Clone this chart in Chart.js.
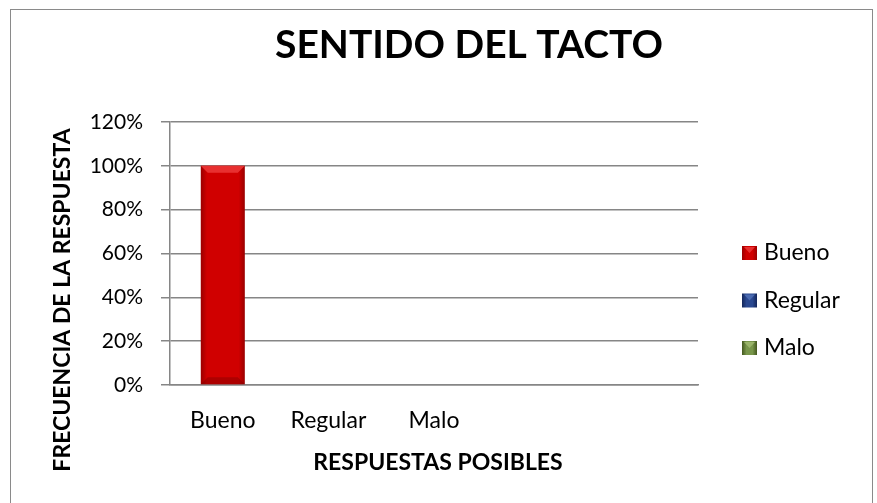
<!DOCTYPE html>
<html><head><meta charset="utf-8">
<script src="https://cdn.jsdelivr.net/npm/chart.js@4/dist/chart.umd.min.js"></script>
<style>
html,body{margin:0;padding:0;background:#fff;overflow:hidden;width:877px;height:503px;}
#frame{position:absolute;left:10px;top:9px;width:863px;height:700px;border:1px solid #8a8a8a;box-sizing:border-box;}
#c{position:absolute;left:0;top:0;}
</style></head><body>
<div id="frame"></div>
<canvas id="c" width="877" height="600"></canvas>
<script>
const chartTitle = 'SENTIDO DEL TACTO';
const xAxisTitle = 'RESPUESTAS POSIBLES';
const yAxisTitle = 'FRECUENCIA DE LA RESPUESTA';
const categories = ['Bueno', 'Regular', 'Malo', '', ''];
const seriesNames = ['Bueno', 'Regular', 'Malo'];
const buenoValues = [100, null, null, null, null];
const regularValues = [null, 0, null, null, null];
const maloValues = [null, null, 0, null, null];
const yTickLabels = ['0%', '20%', '40%', '60%', '80%', '100%', '120%'];

const BAR_PCT = 0.417;
const palette = [
  {dark: '#9a0000', mid: '#d00000', light: '#e83030'},
  {dark: '#13265a', mid: '#2a4890', light: '#4a6ab0'},
  {dark: '#44581f', mid: '#78964a', light: '#9ab46a'}
];

function barFill(base) {
  return (ctx) => {
    const chart = ctx.chart;
    const xs = chart.scales && chart.scales.x;
    if (!xs || ctx.dataIndex === undefined || !chart.chartArea) return base.mid;
    const cx = xs.getPixelForValue(ctx.dataIndex);
    const w = (xs.width / categories.length) * BAR_PCT;
    const g = chart.ctx.createLinearGradient(cx - w / 2, 0, cx + w / 2, 0);
    g.addColorStop(0, base.dark);
    g.addColorStop(0.14, base.mid);
    g.addColorStop(0.86, base.mid);
    g.addColorStop(1, base.dark);
    return g;
  };
}

// bevel highlight on top of each bar, using the library's bar element geometry
const bevel = {
  id: 'bevel',
  afterDatasetsDraw(chart) {
    const c = chart.ctx;
    chart.data.datasets.forEach((ds, di) => {
      const meta = chart.getDatasetMeta(di);
      meta.data.forEach((el, i) => {
        if (ds.data[i] === null || ds.data[i] === 0) return;
        const {x, y, base, width} = el.getProps(['x', 'y', 'base', 'width'], true);
        const l = x - width / 2, r = x + width / 2, b = 7;
        c.save();
        c.fillStyle = palette[di].light;
        c.beginPath(); c.moveTo(l, y); c.lineTo(r, y); c.lineTo(r - b, y + b); c.lineTo(l + b, y + b); c.closePath(); c.fill();
        c.fillStyle = 'rgba(110,0,0,0.35)';
        c.beginPath(); c.moveTo(l, base); c.lineTo(r, base); c.lineTo(r - b, base - b); c.lineTo(l + b, base - b); c.closePath(); c.fill();
        c.restore();
      });
    });
  }
};

const decor = {
  id: 'decor',
  afterDraw(chart, args, o) {
    const c = chart.ctx;
    c.save();
    c.fillStyle = '#000';
    c.textAlign = 'center';
    c.textBaseline = 'alphabetic';
    c.font = 'bold 39px Lato';
    c.fillText(chartTitle, o.titleX, o.titleBase);
    c.font = 'bold 23px Lato';
    c.fillText(xAxisTitle, o.xTitleX, o.xTitleBase);
    c.save();
    c.translate(o.yTitleBase, o.yTitleY);
    c.rotate(-Math.PI / 2);
    c.fillText(yAxisTitle, 0, 0);
    c.restore();
    // legend
    c.textAlign = 'left';
    c.textBaseline = 'middle';
    c.font = '23px Lato';
    chart.data.datasets.forEach((ds, i) => {
      const yc = o.legendY + i * o.legendDy;
      const p = palette[i];
      const bx = o.legendX, by = yc - 7, bw = 15, bh = 14;
      const g = c.createLinearGradient(bx, 0, bx + bw, 0);
      g.addColorStop(0, p.dark); g.addColorStop(0.3, p.mid); g.addColorStop(0.7, p.mid); g.addColorStop(1, p.dark);
      c.fillStyle = g;
      c.fillRect(bx, by, bw, bh);
      c.fillStyle = p.light;
      c.beginPath(); c.moveTo(bx + 2, by + 1); c.lineTo(bx + bw - 2, by + 1); c.lineTo(bx + bw / 2, by + bh / 2); c.closePath(); c.fill();
      c.fillStyle = '#000';
      c.fillText(ds.label, o.legendTextX, yc);
    });
    c.restore();
  }
};

new Chart(document.getElementById('c'), {
  type: 'bar',
  data: {
    labels: categories,
    datasets: [
      {label: seriesNames[0], data: buenoValues, backgroundColor: barFill(palette[0])},
      {label: seriesNames[1], data: regularValues, backgroundColor: barFill(palette[1])},
      {label: seriesNames[2], data: maloValues, backgroundColor: barFill(palette[2])}
    ]
  },
  options: {
    responsive: false,
    animation: false,
    devicePixelRatio: 1,
    layout: {padding: {left: 0, right: 179, top: 122, bottom: 155}},
    datasets: {bar: {categoryPercentage: 1, barPercentage: BAR_PCT, skipNull: true, borderWidth: 0}},
    plugins: {
      legend: {display: false},
      title: {display: false},
      tooltip: {enabled: false},
      decor: {
        titleX: 469, titleBase: 58,
        xTitleX: 438, xTitleBase: 470,
        yTitleBase: 70, yTitleY: 300,
        legendX: 742, legendTextX: 764, legendY: 253, legendDy: 47.5
      }
    },
    scales: {
      x: {
        stacked: true,
        grid: {display: false, drawTicks: false},
        border: {display: true, color: '#868686', width: 1.5},
        ticks: {padding: 22, color: '#000', font: {family: 'Lato', size: 23}, autoSkip: false, maxRotation: 0},
        afterFit(s) { s.height = 60; }
      },
      y: {
        stacked: true,
        min: 0, max: 120,
        ticks: {stepSize: 20, padding: 18, color: '#000', font: {family: 'Lato', size: 21},
          callback: (v, i) => yTickLabels[i]},
        grid: {color: '#868686', lineWidth: 1.5, tickLength: 9, drawTicks: true},
        border: {display: true, color: '#868686', width: 1.5},
        afterFit(s) { s.width = 170; }
      }
    }
  },
  plugins: [bevel, decor]
});
</script>
</body></html>
